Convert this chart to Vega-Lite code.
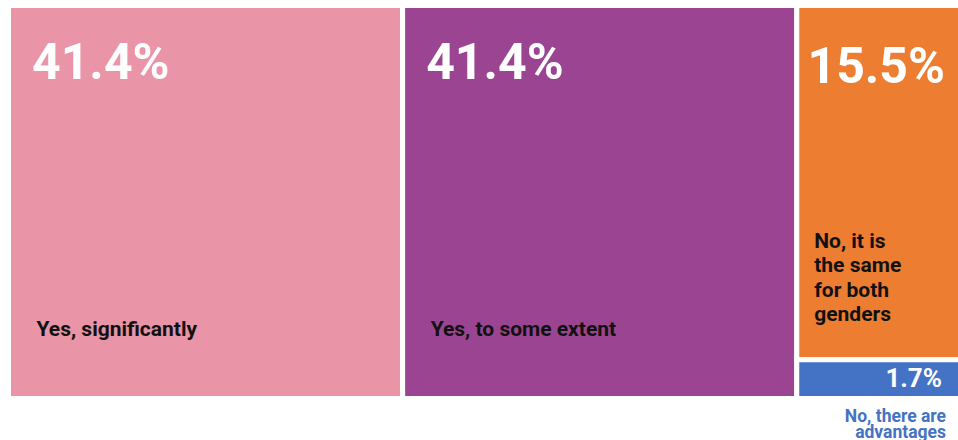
{
  "$schema": "https://vega.github.io/schema/vega-lite/v6.json",
  "width": 949.5,
  "height": 393,
  "autosize": "none",
  "padding": {"left": 8.5, "top": 5.5, "right": 0, "bottom": 41.5},
  "background": "white",
  "config": {"view": {"stroke": null}, "font": "Roboto"},
  "data": {
    "values": [
      {"key": "sig", "label": "Yes, significantly", "share": 0.414, "x0": 0, "x1": 41.4, "y0": 0, "y1": 17.2},
      {"key": "some", "label": "Yes, to some extent", "share": 0.414, "x0": 41.4, "x1": 82.8, "y0": 0, "y1": 17.2},
      {"key": "same", "label": "No, it is\nthe same\nfor both\ngenders", "share": 0.155, "x0": 82.8, "x1": 100, "y0": 0, "y1": 15.5},
      {"key": "adv", "label": "No, there are\nadvantages", "share": 0.017, "x0": 82.8, "x1": 100, "y0": 15.5, "y1": 17.2}
    ]
  },
  "layer": [
    {
      "mark": {"type": "rect", "stroke": "white", "strokeWidth": 5, "clip": false},
      "encoding": {
        "x": {"field": "x0", "type": "quantitative", "scale": {"domain": [0, 100], "range": [0, 952], "nice": false, "zero": false}, "axis": null},
        "x2": {"field": "x1"},
        "y": {"field": "y0", "type": "quantitative", "scale": {"domain": [0, 17.2], "reverse": true, "nice": false, "zero": false}, "axis": null},
        "y2": {"field": "y1"},
        "color": {
          "field": "key", "type": "nominal", "legend": null,
          "scale": {"domain": ["sig", "some", "same", "adv"], "range": ["#E994A7", "#9B4592", "#ED7D31", "#4472C4"]}
        }
      }
    },
    {
      "transform": [{"filter": {"field": "key", "oneOf": ["sig", "some"]}}],
      "mark": {"type": "text", "align": "left", "baseline": "alphabetic", "dx": 23.5, "dy": 73.8, "fontSize": 50, "fontWeight": "bold", "color": "white"},
      "encoding": {
        "x": {"field": "x0", "type": "quantitative"},
        "y": {"field": "y0", "type": "quantitative"},
        "text": {"field": "share", "type": "quantitative", "format": ".1%"}
      }
    },
    {
      "transform": [{"filter": {"field": "key", "equal": "same"}}],
      "mark": {"type": "text", "align": "right", "baseline": "alphabetic", "dx": -15.5, "dy": 77.8, "fontSize": 50, "fontWeight": "bold", "color": "white"},
      "encoding": {
        "x": {"field": "x1", "type": "quantitative"},
        "y": {"field": "y0", "type": "quantitative"},
        "text": {"field": "share", "type": "quantitative", "format": ".1%"}
      }
    },
    {
      "transform": [{"filter": {"field": "key", "equal": "adv"}}],
      "mark": {"type": "text", "align": "right", "baseline": "alphabetic", "dx": -18.5, "dy": -11.8, "fontSize": 26, "fontWeight": "bold", "color": "white"},
      "encoding": {
        "x": {"field": "x1", "type": "quantitative"},
        "y": {"field": "y1", "type": "quantitative"},
        "text": {"field": "share", "type": "quantitative", "format": ".1%"}
      }
    },
    {
      "transform": [{"filter": {"field": "key", "oneOf": ["sig", "some"]}}],
      "mark": {"type": "text", "align": "left", "baseline": "alphabetic", "dx": 28, "dy": -62.5, "fontSize": 21, "fontWeight": "bold", "color": "#111111"},
      "encoding": {
        "x": {"field": "x0", "type": "quantitative"},
        "y": {"field": "y1", "type": "quantitative"},
        "text": {"field": "label", "type": "nominal"}
      }
    },
    {
      "transform": [{"filter": {"field": "key", "equal": "same"}}],
      "mark": {"type": "text", "align": "left", "baseline": "alphabetic", "lineBreak": "\n", "lineHeight": 24.2, "dx": 17.5, "dy": 242.8, "fontSize": 21, "fontWeight": "bold", "color": "#111111"},
      "encoding": {
        "x": {"field": "x0", "type": "quantitative"},
        "y": {"field": "y0", "type": "quantitative"},
        "text": {"field": "label", "type": "nominal"}
      }
    },
    {
      "transform": [{"filter": {"field": "key", "equal": "adv"}}],
      "mark": {"type": "text", "align": "right", "baseline": "alphabetic", "lineBreak": "\n", "lineHeight": 16.5, "dx": -14.5, "dy": 23.2, "fontSize": 17.5, "fontWeight": "bold", "color": "#4472C4"},
      "encoding": {
        "x": {"field": "x1", "type": "quantitative"},
        "y": {"field": "y1", "type": "quantitative"},
        "text": {"field": "label", "type": "nominal"}
      }
    }
  ]
}
